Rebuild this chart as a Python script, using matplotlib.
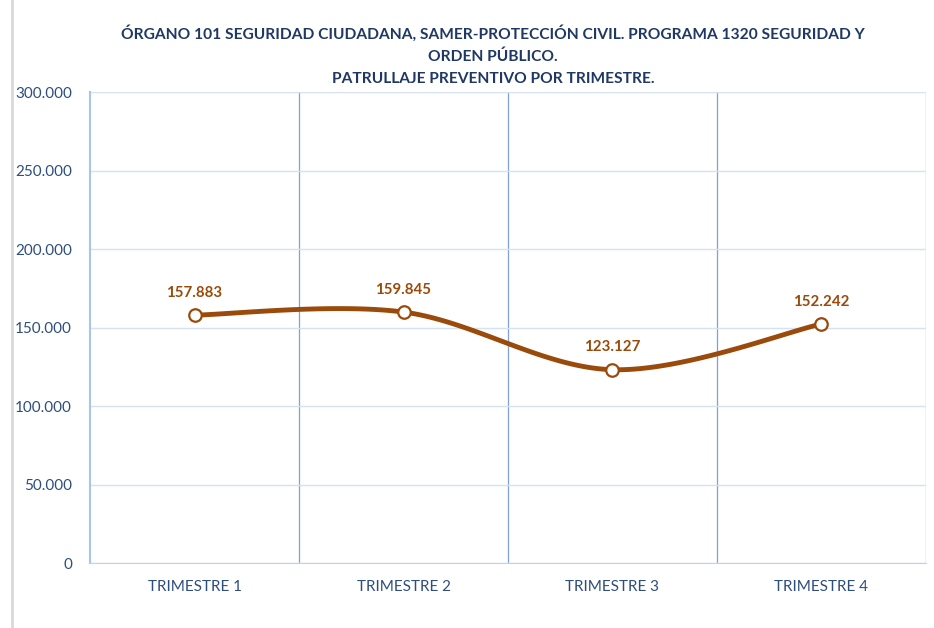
import numpy as np
import matplotlib
matplotlib.use("Agg")
import matplotlib.pyplot as plt
from matplotlib.ticker import FuncFormatter

# ---- data ----
trimestres = ["TRIMESTRE 1", "TRIMESTRE 2", "TRIMESTRE 3", "TRIMESTRE 4"]
patrullajes = [157883, 159845, 123127, 152242]
etiquetas = ["157.883", "159.845", "123.127", "152.242"]

titulo = ("ÓRGANO 101 SEGURIDAD CIUDADANA, SAMER-PROTECCIÓN CIVIL. PROGRAMA 1320 SEGURIDAD Y\n"
          "ORDEN PÚBLICO.\nPATRULLAJE PREVENTIVO POR TRIMESTRE.")

LINE = "#9A4A0A"
NAVY = "#1F3864"
TICK = "#2E4E7E"

plt.rcParams['font.family'] = ['Lato', 'DejaVu Sans']


def smooth(xs, ys, n=40):
    # excel-like smoothed line (bezier through the points)
    px = [xs[0]] + list(xs) + [xs[-1]]
    py = [ys[0]] + list(ys) + [ys[-1]]
    outx, outy = [], []
    t = np.linspace(0, 1, n)
    for i in range(1, len(px) - 2):
        p0 = np.array([px[i], py[i]], float)
        p3 = np.array([px[i + 1], py[i + 1]], float)
        p1 = p0 + (np.array([px[i + 1], py[i + 1]]) - np.array([px[i - 1], py[i - 1]])) / 6
        p2 = p3 - (np.array([px[i + 2], py[i + 2]]) - np.array([px[i], py[i]])) / 6
        b = ((1 - t) ** 3)[:, None] * p0 + (3 * (1 - t) ** 2 * t)[:, None] * p1 \
            + (3 * (1 - t) * t ** 2)[:, None] * p2 + (t ** 3)[:, None] * p3
        outx.extend(b[:, 0]); outy.extend(b[:, 1])
    return outx, outy


fig = plt.figure(figsize=(9.34, 6.28), dpi=100)
ax = fig.add_axes([0.0964, 0.1035, 0.8950, 0.75])

x = np.arange(len(trimestres)) + 0.5
sx, sy = smooth(x, patrullajes)
ax.plot(sx, sy, color=LINE, lw=3.5, solid_capstyle='round', zorder=3)
ax.plot(x, patrullajes, 'o', ms=9, mfc='white', mec=LINE, mew=1.6, zorder=4)

for xi, yi, lab in zip(x, patrullajes, etiquetas):
    ax.annotate(lab, (xi, yi), xytext=(0, 11), textcoords='offset points',
                ha='center', va='bottom', color=LINE, fontsize=10.8, fontweight='bold')

ax.set_xlim(0, 4)
ax.set_ylim(0, 300000)
ax.set_yticks(np.arange(0, 300001, 50000))
ax.yaxis.set_major_formatter(FuncFormatter(lambda v, p: f"{int(v):,}".replace(",", ".")))
ax.set_xticks(x)
ax.set_xticklabels(trimestres)
ax.tick_params(axis='both', length=0, colors=TICK, labelsize=11)
ax.tick_params(axis='x', pad=12)
ax.tick_params(axis='y', pad=13)

ax.grid(axis='y', color="#D6E2F3", lw=1)
for v in [1, 2, 3, 4]:
    ax.axvline(v, color="#7FA1D6", lw=0.9, zorder=1)

for s in ['top', 'right']:
    ax.spines[s].set_visible(False)
ax.spines['left'].set_color("#A9C4E8")
ax.spines['left'].set_linewidth(1.5)
ax.spines['bottom'].set_color("#D0D0D0")

fig.text(0.528, 0.96, titulo, ha='center', va='top', fontsize=11.2, fontweight='bold',
         color=NAVY, linespacing=1.68)

# chart border line on the left
fig.add_artist(plt.Line2D([0.013, 0.013], [0, 1], color="#D9D9D9", lw=2))

fig.savefig("out.png", dpi=100)
